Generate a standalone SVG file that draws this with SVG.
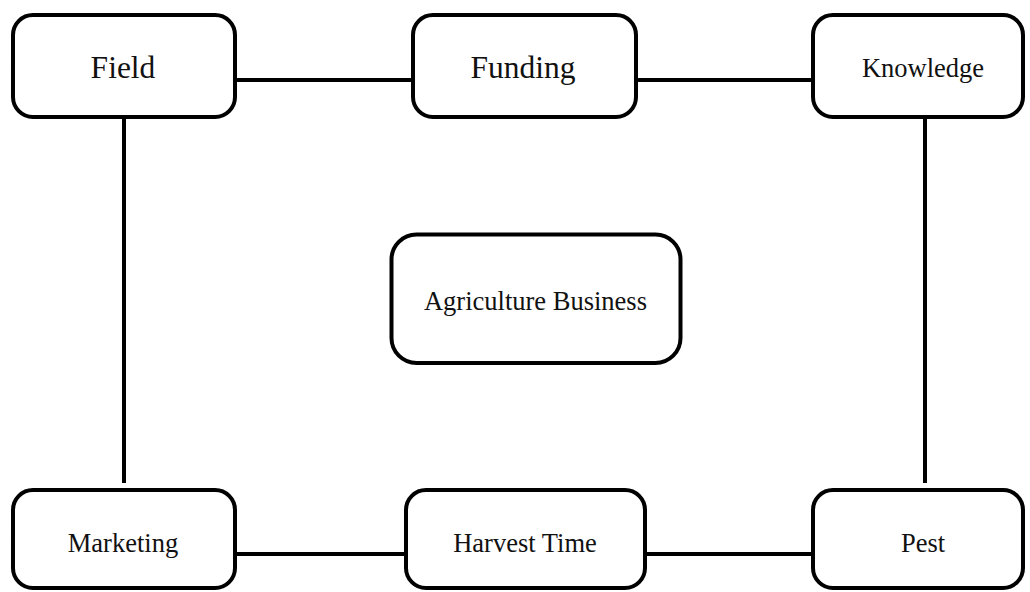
<svg xmlns="http://www.w3.org/2000/svg" width="1030" height="592" viewBox="0 0 1030 592">
<style>
.box{fill:#fff;stroke:#000;stroke-width:4}
.ln{stroke:#000;stroke-width:4;fill:none}
text{font-family:"Liberation Serif","Times New Roman",serif;fill:#111;text-anchor:middle}
.big{font-size:31.5px}
.sm{font-size:26.5px}
</style>
<rect width="1030" height="592" fill="#fff"/>
<g id="connectors">
<line class="ln" x1="235" y1="80" x2="413" y2="80"/>
<line class="ln" x1="636" y1="80" x2="813" y2="80"/>
<line class="ln" x1="124" y1="117" x2="124" y2="483"/>
<line class="ln" x1="925" y1="117" x2="925" y2="483"/>
<line class="ln" x1="235" y1="554" x2="412" y2="554"/>
<line class="ln" x1="638" y1="554" x2="813" y2="554"/>
</g>
<g id="field"><rect class="box" x="13" y="15" width="222" height="102" rx="20"/><text class="big" x="123" y="78">Field</text></g>
<g id="funding"><rect class="box" x="413" y="15" width="223" height="102" rx="20"/><text class="big" x="523" y="78">Funding</text></g>
<g id="knowledge"><rect class="box" x="813" y="15" width="210" height="102" rx="20"/><text class="sm" x="923" y="77">Knowledge</text></g>
<g id="agriculture"><rect class="box" x="391.5" y="234.5" width="289" height="128.5" rx="25"/><text class="sm" x="535.5" y="310">Agriculture Business</text></g>
<g id="marketing"><rect class="box" x="13" y="490" width="222" height="98" rx="20"/><text class="sm" x="123" y="552">Marketing</text></g>
<g id="harvest"><rect class="box" x="406" y="490" width="239" height="98" rx="20"/><text class="sm" x="525" y="552">Harvest Time</text></g>
<g id="pest"><rect class="box" x="813" y="490" width="210" height="98" rx="20"/><text class="sm" x="923" y="552">Pest</text></g>
</svg>
